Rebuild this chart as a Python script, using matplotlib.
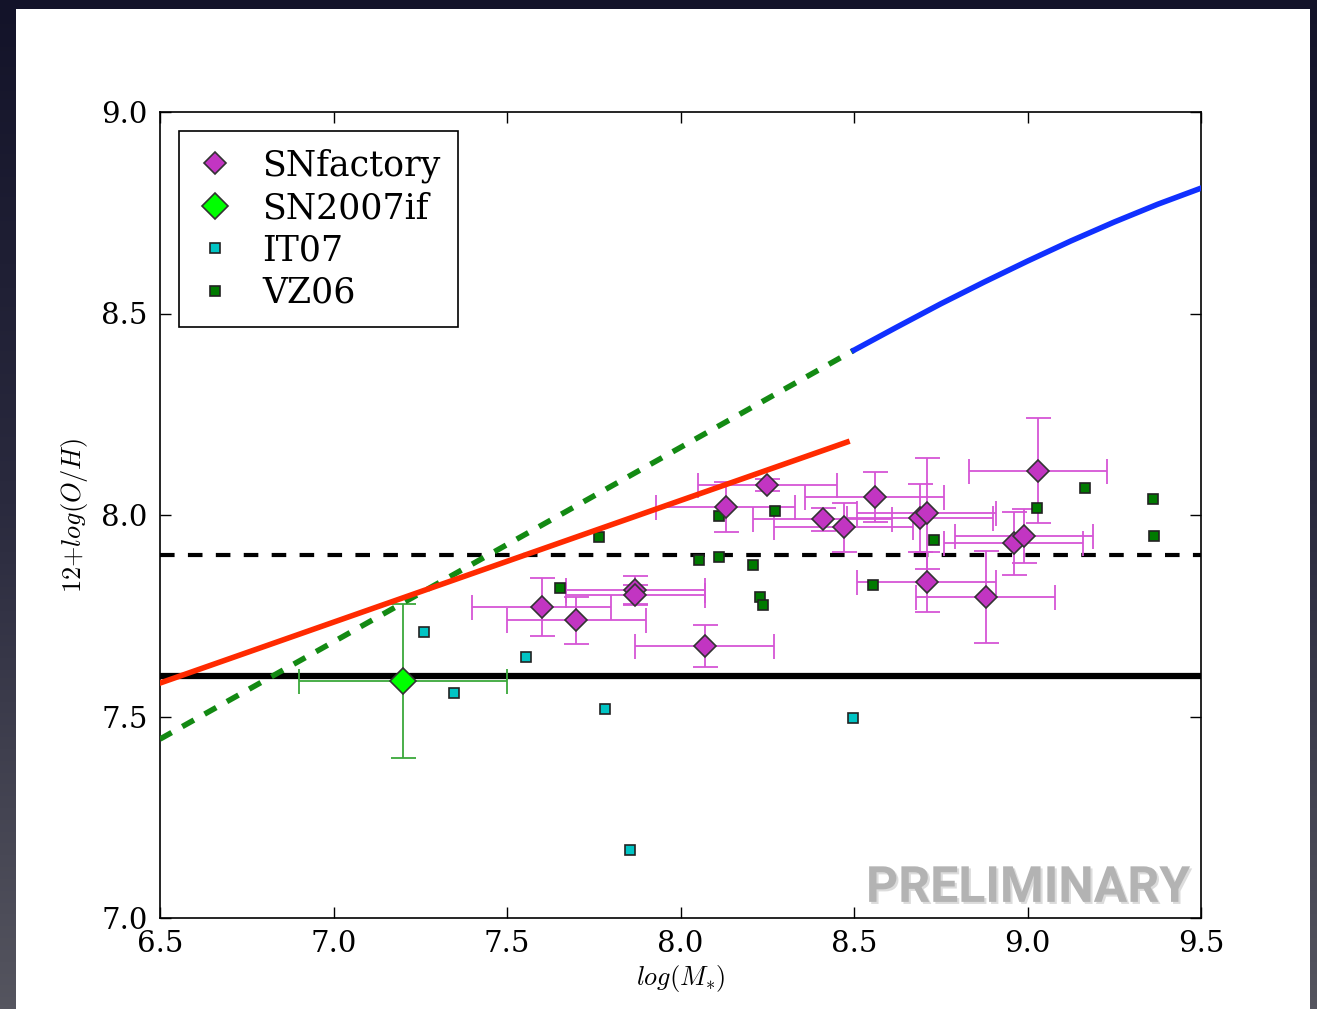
import matplotlib
matplotlib.use("Agg")
import matplotlib.pyplot as plt
import matplotlib.patheffects as pe
import numpy as np
from matplotlib.patches import Rectangle

plt.rcParams["font.family"] = "DejaVu Serif"
plt.rcParams["mathtext.fontset"] = "cm"

# SNfactory hosts: stellar mass, metallicity and symmetric errors
snf_mass = [7.60, 7.70, 7.87, 7.87, 8.07, 8.13, 8.25, 8.41, 8.47, 8.56,
            8.69, 8.71, 8.71, 8.88, 8.96, 8.99, 9.03]
snf_oh = [7.772, 7.739, 7.814, 7.801, 7.675, 8.019, 8.074, 7.989, 7.969, 8.045,
          7.992, 8.004, 7.834, 7.797, 7.930, 7.948, 8.110]
snf_mass_err = [0.20, 0.20, 0.20, 0.20, 0.20, 0.20, 0.20, 0.20, 0.20, 0.20,
                0.21, 0.20, 0.20, 0.20, 0.20, 0.20, 0.20]
snf_oh_err = [0.072, 0.058, 0.035, 0.025, 0.052, 0.062, 0.015, 0.028, 0.060, 0.062,
              0.084, 0.137, 0.074, 0.114, 0.078, 0.068, 0.130]

# SN 2007if host
if_mass = [7.20]
if_oh = [7.588]
if_mass_err = [0.30]
if_oh_err = [0.19]

# Comparison dwarf samples
it07_mass = [7.26, 7.555, 7.347, 7.782, 8.498, 7.855]
it07_oh = [7.709, 7.647, 7.559, 7.518, 7.497, 7.168]

vz06_mass = [7.764, 7.653, 8.052, 8.112, 8.208, 8.229, 8.239, 8.112, 8.272,
             8.731, 8.556, 9.026, 9.167, 9.361, 9.364]
vz06_oh = [7.946, 7.818, 7.888, 7.896, 7.876, 7.797, 7.777, 7.998, 8.010,
           7.938, 7.826, 8.018, 8.068, 8.039, 7.948]

# Mass-metallicity relations
t04_mass = [8.5, 8.625, 8.75, 8.875, 9.0, 9.125, 9.25, 9.375, 9.5]
t04_oh = [8.409, 8.467, 8.524, 8.578, 8.630, 8.680, 8.727, 8.771, 8.811]
t04_ext_mass = [6.5, 8.5]
t04_ext_oh = [7.444, 8.409]
lee_mass = [6.5, 8.48]
lee_oh = [7.583, 8.181]

oh_dashed = 7.9
oh_solid = 7.6

W, H = 1317, 1009
fig = plt.figure(figsize=(W / 100, H / 100), dpi=100)

# slide background with a white panel
bg = fig.add_axes([0, 0, 1, 1], zorder=-1)
grad = np.linspace(0, 1, 256).reshape(-1, 1)
cmap = matplotlib.colors.LinearSegmentedColormap.from_list("slide", ["#131329", "#2a2a3e", "#55555f"])
bg.imshow(grad, aspect="auto", cmap=cmap, extent=[0, 1, 0, 1], origin="upper")
bg.add_patch(Rectangle((16 / W, 0), (1310 - 16) / W, (H - 9) / H, facecolor="white",
                       edgecolor="none", transform=bg.transAxes))
bg.set_xlim(0, 1)
bg.set_ylim(0, 1)
bg.axis("off")

ax = fig.add_axes([160 / W, 1 - 918 / H, (1201 - 160) / W, (918 - 112) / H])

ax.axhline(oh_solid, color="black", lw=4.5, zorder=1)
ax.axhline(oh_dashed, color="black", lw=3, dashes=(3.5, 3.2), zorder=1)

ax.errorbar(snf_mass, snf_oh, xerr=snf_mass_err, yerr=snf_oh_err, fmt="none",
            ecolor="#d555d5", elinewidth=1.3, capsize=9, capthick=1.3, zorder=2)
ax.errorbar(if_mass, if_oh, xerr=if_mass_err, yerr=if_oh_err, fmt="none",
            ecolor="#3aa83a", elinewidth=1.3, capsize=9, capthick=1.3, zorder=2)

ax.plot(it07_mass, it07_oh, "s", color="#00c4c4", mec="#222222", mew=1.2, ms=7.5,
        ls="none", label="IT07", zorder=3)
ax.plot(vz06_mass, vz06_oh, "s", color="#007a00", mec="#222222", mew=1.2, ms=7.5,
        ls="none", label="VZ06", zorder=3)
ax.plot(snf_mass, snf_oh, "D", color="#c235c2", mec="#333333", mew=1.2, ms=11.5,
        ls="none", label="SNfactory", zorder=4)
ax.plot(if_mass, if_oh, "D", color="#00ff00", mec="#333333", mew=1.2, ms=13,
        ls="none", label="SN2007if", zorder=4)

ax.plot(t04_ext_mass, t04_ext_oh, color="#138a13", lw=4, dashes=(2.4, 2.2), zorder=5)
ax.plot(lee_mass, lee_oh, color="#ff2a00", lw=4, zorder=5)
ax.plot(t04_mass, t04_oh, color="#1030ff", lw=4, zorder=5)

ax.set_xlim(6.5, 9.5)
ax.set_ylim(7.0, 9.0)
ax.set_xticks(np.arange(6.5, 9.51, 0.5))
ax.set_yticks(np.arange(7.0, 9.01, 0.5))
ax.tick_params(direction="in", length=8, width=1, top=True, right=True,
               labelsize=21, pad=9)
for s in ax.spines.values():
    s.set_linewidth(1.2)

ax.set_xlabel(r"$log(M_{*})$", fontsize=19, labelpad=3)
ax.set_ylabel(r"$12{+}log(O/H)$", fontsize=19, labelpad=8)

handles, labels = ax.get_legend_handles_labels()
order = [labels.index(k) for k in ["SNfactory", "SN2007if", "IT07", "VZ06"]]
leg = ax.legend([handles[i] for i in order], [labels[i] for i in order],
                loc="upper left", fontsize=25, numpoints=1, fancybox=False,
                labelspacing=0.24, handlelength=1.05, handletextpad=0.84,
                borderpad=0.5, borderaxespad=0.55, framealpha=1)
leg.get_frame().set_edgecolor("black")
leg.get_frame().set_linewidth(1.2)

ax.text(0.9894, 0.02, "PRELIMINARY", transform=ax.transAxes, ha="right", va="baseline",
        fontsize=36, family="Roboto", weight="bold", color="#b3b3b3", zorder=6,
        path_effects=[pe.withSimplePatchShadow(offset=(1.5, -1.5), shadow_rgbFace="#dcdcdc", alpha=1)])

fig.savefig("out.png", dpi=100)
